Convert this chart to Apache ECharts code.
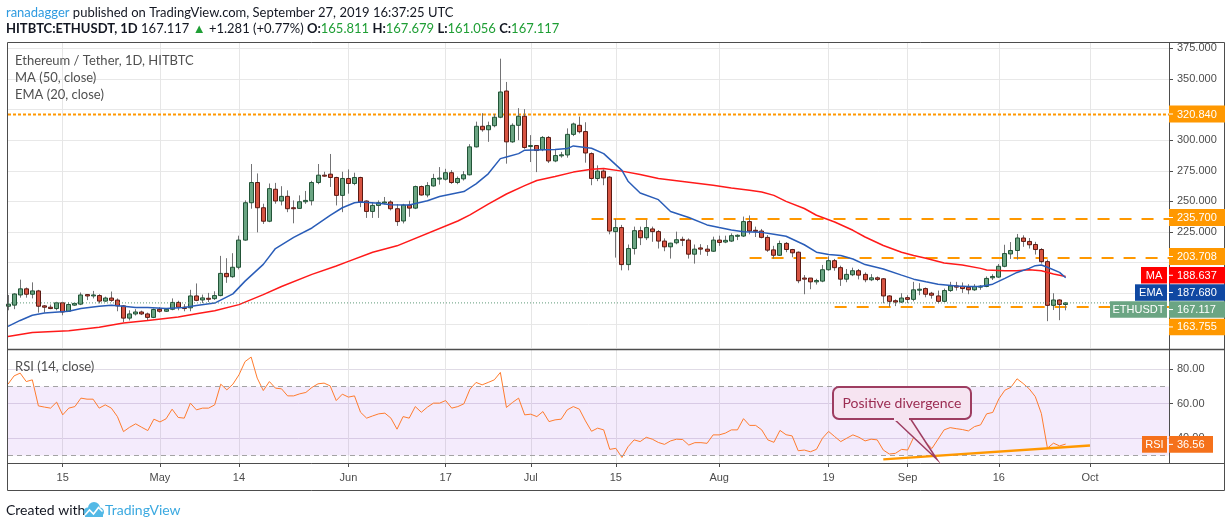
<!DOCTYPE html>
<html>
<head>
<meta charset="utf-8">
<script src="https://cdn.jsdelivr.net/npm/echarts@6/dist/echarts.min.js"></script>
<style>
html, body { margin: 0; padding: 0; background: #fff; }
#chart { width: 1232px; height: 528px; }
</style>
</head>
<body>
<div id="chart"></div>
<script>
// daily candles from 2019-04-06, axis runs on to 2019-10-14
var startDay = Date.UTC(2019, 3, 6);
var dayCount = 192;

var opens = [164.4,165.3,173.6,178.6,174.2,176.9,164.7,163.6,162.5,167.2,
  160.3,165.3,166.1,173.9,172.8,173.1,168.6,171.1,169.4,164.7,
  154.7,158.1,159.7,158.1,155.3,161.9,160.3,161.9,167.5,163.6,
  163.1,172.8,169.5,170.9,170.6,173.1,191.2,188.5,196.2,218.4,
  248.9,265.4,244.8,233.8,259.9,250.3,254.1,244.8,244.3,249.7,
  250.5,265.4,271.4,272.2,269.5,254.9,268.7,264.6,269.5,250.3,
  241.8,246.7,248.9,249.5,244.0,234.0,247.0,244.5,262.1,255.2,
  262.6,268.7,268.1,273.4,265.4,268.4,271.7,294.5,311.3,308.5,
  311.8,318.7,340.1,298.6,312.1,319.5,295.3,295.6,292.3,302.2,
  283.0,287.6,287.9,304.7,312.1,307.0,289.0,268.7,274.7,269.8,
  225.3,228.6,198.4,211.5,226.1,220.3,227.5,225.3,217.6,212.9,
  216.2,219.0,218.4,206.9,212.0,211.0,209.3,218.4,216.8,217.6,
  222.0,221.7,233.5,226.4,225.8,220.6,210.4,206.0,215.7,210.7,
  208.5,187.4,187.4,184.3,184.9,194.2,201.6,195.9,186.5,190.1,
  193.4,190.4,186.0,187.6,186.8,172.8,168.9,167.8,171.4,170.0,
  177.5,178.8,175.0,172.8,168.4,177.2,181.0,180.5,179.9,177.8,
  180.0,180.5,187.6,188.2,197.0,207.1,209.9,220.1,217.3,214.8,
  210.7,200.8,165.1,169.5,165.811];

var highs = [173.6,175.0,186.1,179.7,183.9,177.8,165.3,165.8,168.0,168.0,
  167.5,167.2,175.6,174.2,176.9,174.2,172.2,176.4,170.8,165.3,
  161.1,162.0,160.8,159.2,162.5,163.6,162.8,170.8,168.9,166.1,
  177.8,183.0,173.9,175.3,176.6,205.5,203.6,207.7,222.0,250.8,
  280.5,272.8,248.1,264.6,265.1,262.4,259.0,250.8,254.9,258.5,
  266.8,280.5,274.2,288.7,270.1,274.2,276.1,273.4,270.1,250.8,
  249.5,250.8,253.6,250.8,247.8,248.0,250.5,262.9,262.9,265.7,
  272.5,278.0,276.6,275.5,270.3,274.7,296.7,315.1,322.0,315.1,
  321.4,366.5,347.5,313.7,326.1,325.3,304.1,296.0,303.3,303.3,
  292.3,290.4,309.6,314.3,319.2,314.6,290.0,279.4,276.1,270.6,
  235.7,230.8,214.8,229.4,229.4,234.9,229.4,226.6,219.8,216.2,
  225.3,221.2,219.8,214.8,215.1,214.3,221.2,222.0,222.0,223.9,
  223.1,237.6,238.5,229.4,227.5,222.5,213.7,218.0,216.8,211.2,
  209.1,189.8,187.4,186.8,198.1,205.2,203.0,197.5,194.8,195.9,
  194.8,192.0,190.6,188.7,187.4,173.4,170.0,175.0,173.4,184.3,
  183.2,179.7,176.1,177.2,178.8,184.3,184.3,183.8,182.4,182.4,
  181.6,188.7,190.5,198.9,214.6,216.8,223.4,222.3,220.1,217.0,
  211.8,202.5,175.0,170.0,167.679];

var lows = [161.1,162.0,171.4,171.4,170.8,159.2,159.2,162.0,161.1,157.0,
  159.7,164.7,165.3,169.4,170.8,166.7,168.0,168.0,160.3,151.4,
  152.8,156.8,157.2,152.8,154.7,159.2,159.7,161.1,161.1,160.3,
  160.3,168.5,167.0,167.8,169.5,172.5,183.5,187.6,194.5,217.9,
  244.0,224.7,231.6,233.0,248.1,246.7,241.2,232.1,244.0,248.0,
  246.7,264.0,270.1,261.8,246.7,241.2,256.3,263.2,245.3,236.5,
  236.5,236.5,247.5,242.6,230.0,232.0,237.4,243.7,254.7,253.3,
  262.0,263.7,267.0,264.3,264.0,267.0,271.2,294.0,306.9,298.6,
  310.5,317.9,280.8,297.8,300.0,292.9,282.1,273.9,291.0,281.3,
  282.0,285.7,285.7,303.3,305.5,281.6,263.2,266.5,263.2,223.1,
  204.1,193.7,193.7,206.6,214.3,218.4,217.0,211.5,209.3,203.3,
  215.0,213.5,203.3,199.2,206.4,205.5,208.8,213.7,215.9,216.8,
  218.4,220.9,223.1,220.9,219.8,208.8,203.3,205.5,208.5,204.4,
  183.2,174.2,178.3,182.1,184.0,193.4,193.4,181.0,184.0,189.0,
  186.3,184.0,184.9,184.9,166.8,164.0,164.5,167.0,167.0,168.4,
  173.4,171.7,170.6,166.8,168.0,176.1,177.2,175.3,174.2,176.9,
  177.8,179.9,185.8,187.6,196.2,203.0,202.5,212.9,211.5,206.6,
  199.2,152.2,161.3,153.0,161.056];

var closes = [166.1,174.4,178.6,174.2,176.9,164.4,163.6,162.5,167.2,159.7,
  165.8,166.7,173.6,172.8,173.6,168.6,171.1,169.2,164.7,154.7,
  158.1,159.7,158.1,155.3,161.7,160.3,161.9,167.5,163.6,162.5,
  172.8,169.2,171.2,170.6,173.1,191.2,188.5,196.2,218.4,248.9,
  265.4,244.8,233.8,260.4,250.3,254.1,244.0,244.3,249.7,250.8,
  265.4,271.4,271.2,269.5,254.9,268.7,264.6,269.5,249.5,241.8,
  246.7,248.9,249.5,244.0,233.5,247.0,244.5,262.1,255.2,262.9,
  268.7,269.0,273.4,265.4,268.7,271.7,294.5,311.3,308.5,311.8,
  318.7,339.3,298.6,312.1,319.5,294.0,295.6,291.5,302.2,283.0,
  287.4,288.0,304.7,313.2,306.9,289.5,268.7,274.7,269.2,225.8,
  228.6,198.4,211.5,226.1,220.3,228.6,225.3,217.6,212.9,215.9,
  218.7,218.5,206.9,211.0,211.0,209.3,218.4,216.5,218.2,222.0,
  222.3,233.5,225.8,226.1,220.6,210.2,206.0,215.6,210.7,208.0,
  185.2,186.5,184.3,185.4,194.2,201.6,195.9,186.5,190.4,193.4,
  189.8,186.0,187.6,186.3,172.8,168.4,167.8,171.1,170.0,177.8,
  178.3,174.2,173.4,168.4,177.2,181.0,180.0,178.8,177.8,180.5,
  180.8,187.1,188.7,197.0,207.4,209.9,220.1,217.3,214.6,210.7,
  200.8,165.1,169.5,165.9,167.117];

// MA (50) and EMA (20): day index -> value
var maDays = [0,4,10,15,19,23,28,31,34,38,42,45,50,54,56,60,64,74,76,79,82,85,87,90,93,96,98,
  101,104,107,112,116,119,122,124,126,128,131,133,136,139,141,144,147,149,151,154,157,160,161,
  164,166,168,170,172,174];
var maValues = [139.7,143.0,144.4,147.2,150.8,152.8,155.6,158.3,160.7,165.7,173.9,180.5,190.4,197.3,201.0,208.5,213.7,234.0,239.0,247.8,256.0,262.9,267.0,270.3,273.9,276.2,276.9,
  274.7,272.0,268.7,265.7,263.2,261.0,259.1,257.7,254.9,250.0,244.2,238.7,233.2,226.4,220.9,214.0,208.5,205.8,203.6,199.7,198.1,195.3,194.0,
  193.4,193.4,194.2,193.4,190.7,188.637];

var emaDays = [0,2,4,6,10,12,15,17,19,21,23,26,29,31,34,37,39,42,44,47,50,53,55,57,58,61,63,66,69,71,75,77,79,81,82,84,85,90,92,93,95,96,98,
  101,102,104,107,109,112,115,117,119,121,124,126,128,131,133,135,137,139,141,144,147,149,151,153,156,158,160,162,164,166,168,169,170,171,173,174];
var emaValues = [148.0,152.8,157.0,158.9,160.3,162.5,164.4,165.3,164.4,163.3,163.3,162.5,163.3,165.0,167.0,174.5,184.9,198.6,211.5,220.6,228.3,238.5,244.8,248.9,249.5,248.5,247.3,247.0,250.5,254.0,258.0,264.3,272.5,284.9,286.3,289.0,291.8,292.3,293.1,295.3,294.0,293.4,289.0,
  275.3,266.5,256.9,251.4,241.8,236.8,230.8,228.6,226.6,225.3,224.7,223.1,221.5,214.6,208.5,206.6,205.8,203.0,198.4,194.8,189.8,186.5,184.3,182.4,181.0,180.5,180.5,182.4,187.1,192.0,195.3,197.5,198.1,196.2,192.0,187.68];

var rsiValues = [71.3,76.1,77.7,72.8,73.8,58.7,58.0,57.4,60.9,53.5,
  57.4,58.3,63.2,62.6,62.6,57.4,59.3,57.4,52.5,43.8,
  46.3,48.3,46.3,44.4,51.0,49.4,51.2,56.8,52.0,51.6,
  60.3,56.4,57.4,57.4,59.3,71.3,68.0,71.3,76.7,84.4,
  87.0,74.8,67.6,72.8,69.0,68.6,64.5,64.5,65.7,66.5,
  69.4,71.5,71.9,70.3,61.8,65.5,63.8,64.5,55.0,51.6,
  52.9,54.1,54.5,51.6,45.2,52.5,51.6,58.3,55.0,58.0,
  60.3,60.3,61.8,57.4,58.3,59.9,68.4,72.3,70.9,72.3,
  73.8,78.1,57.8,60.7,63.2,53.5,53.9,52.5,55.4,49.6,
  50.6,51.0,56.4,58.3,56.8,50.0,44.0,45.8,44.8,33.5,
  34.1,28.8,35.0,39.0,38.0,40.5,39.4,37.5,36.4,38.4,
  39.4,39.2,36.0,37.4,37.4,37.0,41.9,41.9,42.9,44.8,
  44.8,51.3,47.4,47.4,44.8,39.0,37.6,44.5,42.0,41.3,
  32.7,33.1,32.1,33.5,40.0,43.9,40.9,38.0,40.0,41.9,
  40.5,38.4,39.4,39.0,33.1,30.8,31.2,33.5,33.1,40.5,
  40.0,37.4,34.0,39.4,44.8,46.1,45.5,45.0,44.2,46.7,
  47.7,54.1,54.9,62.7,67.8,69.5,74.4,71.7,68.6,64.1,
  54.3,34.2,37.1,35.5,36.56];

// horizontal levels: [value, first day index]
var levelValues = [320.84, 235.7, 203.708, 163.755];
var levelStarts = [0, 95.7, 121.7, 135.7];
var lastPrice = 167.117;

// divergence trend line on RSI: [day index, rsi]
var divergenceLine = [[143.9, 27.7], [177.8, 35.7]];

var tickDates = ['2019-04-15','2019-05-01','2019-05-14','2019-06-01','2019-06-17','2019-07-01',
  '2019-07-15','2019-08-01','2019-08-19','2019-09-01','2019-09-16','2019-10-01'];
var tickLabels = ['15','May','14','Jun','17','Jul','15','Aug','19','Sep','16','Oct'];
var priceTicks = [150, 175, 200, 225, 250, 275, 300, 325, 350, 375];
var priceLabels = [225, 250, 275, 300, 350, 375];  // the rest sit under the price tags
var rsiTicks = [40, 60, 80];

var dates = [];
for (var i = 0; i < dayCount; i++) {
  dates.push(new Date(startDay + i * 86400000).toISOString().slice(0, 10));
}

var lastIdx = dayCount - 1;
var isTick = function (index, value) { return tickDates.indexOf(value) >= 0; };
var tickName = function (value) {
  var k = tickDates.indexOf(value);
  return k >= 0 ? tickLabels[k] : '';
};

var candleData = opens.map(function (o, i) { return [i, o, closes[i], lows[i], highs[i]]; });

function renderCandle(params, api) {
  var idx = api.value(0);
  var o = api.value(1), c = api.value(2), l = api.value(3), h = api.value(4);
  var pO = api.coord([idx, o]);
  var pC = api.coord([idx, c]);
  var pL = api.coord([idx, l]);
  var pH = api.coord([idx, h]);
  var cx = Math.floor(pO[0]) + 0.5;
  var up = c >= o;
  var top = Math.min(pO[1], pC[1]);
  var bot = Math.max(pO[1], pC[1]);
  if (bot - top < 1) { bot = top + 1; }
  return {
    type: 'group',
    children: [
      { type: 'line', shape: { x1: cx, y1: pH[1], x2: cx, y2: pL[1] },
        style: { stroke: '#737375', lineWidth: 1 } },
      { type: 'rect', shape: { x: cx - 2, y: top, width: 4, height: bot - top },
        style: { fill: up ? '#6ba583' : '#d75442', stroke: up ? '#225437' : '#5b1a13', lineWidth: 1 } }
    ]
  };
}

var FONT = 'Lato, "Liberation Sans", sans-serif';
var AXISFONT = '"Liberation Sans", Arial, sans-serif';

var levelSeries = levelValues.map(function (v, k) {
  return {
    type: 'line', xAxisIndex: 0, yAxisIndex: 0, z: 1, silent: true,
    symbol: 'none', animation: false,
    data: [[levelStarts[k], v], [lastIdx, v]],
    lineStyle: { color: '#ff9800', width: 2, type: k === 0 ? [3, 2] : [12, 10] }
  };
});

// price tags on the right scale
function tag(y, h, color, value, label, labelX, w) {
  var els = [
    { type: 'rect', z: 60, shape: { x: 1169, y: y, width: w || 56, height: h }, style: { fill: color } },
    { type: 'line', z: 61, shape: { x1: 1169, y1: y + h / 2, x2: 1173, y2: y + h / 2 }, style: { stroke: '#fff', lineWidth: 1 } },
    { type: 'text', z: 61, x: 1177, y: y + h / 2 + 0.5,
      style: { text: value, fill: '#fff', font: '11px ' + AXISFONT, textVerticalAlign: 'middle', verticalAlign: 'middle' } }
  ];
  if (label) {
    els.push({ type: 'rect', z: 60, shape: { x: labelX, y: y, width: 1167 - labelX, height: h }, style: { fill: color } });
    els.push({ type: 'text', z: 61, x: (labelX + 1167) / 2, y: y + h / 2 + 0.5,
      style: { text: label, fill: '#fff', font: '11px ' + AXISFONT, textAlign: 'center', align: 'center',
        textVerticalAlign: 'middle', verticalAlign: 'middle' } });
  }
  return els;
}

var graphics = [];
// frame
graphics.push({ type: 'rect', z: 40, shape: { x: 7.5, y: 42.5, width: 1217, height: 448 },
  style: { fill: null, stroke: '#4d4d4d', lineWidth: 1 } });
graphics.push({ type: 'line', z: 40, shape: { x1: 7.5, y1: 349.5, x2: 1224.5, y2: 349.5 }, style: { stroke: '#4d4d4d', lineWidth: 1.5 } });
graphics.push({ type: 'line', z: 40, shape: { x1: 7.5, y1: 463.5, x2: 1224.5, y2: 463.5 }, style: { stroke: '#4d4d4d', lineWidth: 1 } });
graphics.push({ type: 'line', z: 40, shape: { x1: 1169.5, y1: 42.5, x2: 1169.5, y2: 463.5 }, style: { stroke: '#4d4d4d', lineWidth: 1 } });

// header
graphics.push({ type: 'text', x: 6, y: 13, style: {
  text: '{u|ranadagger}{t| published on TradingView.com, September 27, 2019 16:37:25 UTC}',
  font: '13px ' + FONT, textVerticalAlign: 'middle', verticalAlign: 'middle',
  rich: { u: { fill: '#2f9be0', color: '#2f9be0', font: '13px ' + FONT }, t: { fill: '#131722', color: '#131722', font: '13px ' + FONT } }
} });
graphics.push({ type: 'text', x: 6, y: 29, style: {
  text: '{b|HITBTC:ETHUSDT, 1D} {t|167.117 }{g|\u25B2}{t| +1.281 (+0.77%) }{b|O:}{g|165.811} {b|H:}{g|167.679} {b|L:}{g|161.056} {b|C:}{g|167.117}',
  font: '13px ' + FONT, textVerticalAlign: 'middle', verticalAlign: 'middle',
  rich: {
    b: { fill: '#131722', color: '#131722', font: 'bold 13px ' + FONT },
    t: { fill: '#131722', color: '#131722', font: '13px ' + FONT },
    g: { fill: '#1f9e35', color: '#1f9e35', font: '13px ' + FONT }
  }
} });

// legends
[['Ethereum / Tether, 1D, HITBTC', 61], ['MA (50, close)', 78], ['EMA (20, close)', 95], ['RSI (14, close)', 367]].forEach(function (t) {
  graphics.push({ type: 'text', z: 50, x: 15, y: t[1], style: { text: t[0], fill: '#505050', font: '13px ' + FONT,
    textVerticalAlign: 'middle', verticalAlign: 'middle' } });
});

// tags
graphics = graphics.concat(tag(105.5, 17, '#ff9800', '320.840'));
graphics = graphics.concat(tag(209, 17, '#ff9800', '235.700'));
graphics = graphics.concat(tag(248, 17, '#ff9800', '203.708'));
graphics = graphics.concat(tag(267, 16.5, '#ff0000', '188.637', 'MA', 1141));
graphics = graphics.concat(tag(284.3, 16.5, '#0f48a2', '187.680', 'EMA', 1135));
graphics = graphics.concat(tag(301.3, 16.5, '#6ba583', '167.117', 'ETHUSDT', 1110));
graphics = graphics.concat(tag(318.7, 16.5, '#ff9800', '163.755'));
graphics = graphics.concat(tag(436, 16.7, '#f5711b', '36.56', 'RSI', 1142, 44));

// callout
graphics.push({ type: 'polygon', z: 55, shape: { points: [[893, 418], [937, 459.5], [910, 418]] },
  style: { fill: '#f6e4f1', stroke: '#9e3d61', lineWidth: 1.5 } });
graphics.push({ type: 'rect', z: 56, shape: { x: 833, y: 387, width: 138, height: 32, r: 6 },
  style: { fill: '#f6e4f1', stroke: '#9e3d61', lineWidth: 2 } });
graphics.push({ type: 'rect', z: 57, shape: { x: 894, y: 416, width: 15, height: 5 },
  style: { fill: '#f6e4f1' } });
graphics.push({ type: 'text', z: 58, x: 902, y: 403, style: { text: 'Positive divergence', fill: '#9b2c52',
  font: '14px ' + FONT, textAlign: 'center', align: 'center', textVerticalAlign: 'middle', verticalAlign: 'middle' } });

// footer
graphics.push({ type: 'text', x: 6, y: 510, style: { text: 'Created with', fill: '#131722', font: '14px ' + FONT,
  textVerticalAlign: 'middle', verticalAlign: 'middle' } });
graphics.push({ type: 'circle', shape: { cx: 88, cy: 512, r: 4.5 }, style: { fill: '#53b9e6' } });
graphics.push({ type: 'circle', shape: { cx: 94, cy: 508, r: 6 }, style: { fill: '#53b9e6' } });
graphics.push({ type: 'circle', shape: { cx: 99.5, cy: 512, r: 4.5 }, style: { fill: '#53b9e6' } });
graphics.push({ type: 'rect', shape: { x: 85, y: 511, width: 18, height: 6 }, style: { fill: '#53b9e6' } });
graphics.push({ type: 'polyline', shape: { points: [[85, 515], [89.5, 510], [93.5, 514], [98.5, 507.5], [102.5, 511.5]] },
  style: { stroke: '#fff', lineWidth: 1.6, fill: null } });
graphics.push({ type: 'text', x: 105, y: 510, style: { text: 'TradingView', fill: '#3ba9e0', font: '14px ' + FONT,
  textVerticalAlign: 'middle', verticalAlign: 'middle' } });

var option = {
  animation: false,
  backgroundColor: '#ffffff',
  grid: [
    { left: 8, right: 63, top: 43, height: 305 },
    { left: 8, right: 63, top: 350, height: 113 }
  ],
  xAxis: [
    { type: 'category', gridIndex: 0, data: dates, boundaryGap: false,
      axisLine: { show: false }, axisTick: { show: false }, axisLabel: { show: false },
      splitLine: { show: true, interval: isTick, lineStyle: { color: '#e6e6e6', width: 1 } } },
    { type: 'category', gridIndex: 1, data: dates, boundaryGap: false,
      axisLine: { show: false },
      axisTick: { show: true, interval: isTick, length: 4, lineStyle: { color: '#4d4d4d' } },
      axisLabel: { show: true, interval: isTick, formatter: tickName, color: '#4c4c4c', fontSize: 11,
        fontFamily: AXISFONT, margin: 9 },
      splitLine: { show: true, interval: isTick, lineStyle: { color: '#e6e6e6', width: 1 } } }
  ],
  yAxis: [
    { type: 'value', gridIndex: 0, position: 'right', min: 130.3, max: 379.3,
      axisLine: { show: false },
      axisTick: { show: true, length: 4, customValues: priceTicks, lineStyle: { color: '#4d4d4d' } },
      axisLabel: { customValues: priceLabels, formatter: function (v) { return v.toFixed(3); },
        color: '#4c4c4c', fontSize: 11, fontFamily: AXISFONT, margin: 8 },
      splitLine: { show: true, lineStyle: { color: '#e8e8e8', width: 1 } } },
    { type: 'value', gridIndex: 1, position: 'right', min: 25.6, max: 91.1,
      axisLine: { show: false },
      axisTick: { show: true, length: 4, customValues: rsiTicks, lineStyle: { color: '#4d4d4d' } },
      axisLabel: { customValues: rsiTicks, formatter: function (v) { return v.toFixed(2); },
        color: '#4c4c4c', fontSize: 11, fontFamily: AXISFONT, margin: 8 },
      splitLine: { show: true, lineStyle: { color: '#e0dbe6', width: 1 } } }
  ],
  series: levelSeries.concat([
    { type: 'custom', name: 'ETHUSDT', xAxisIndex: 0, yAxisIndex: 0, z: 3,
      renderItem: renderCandle, data: candleData, encode: { x: 0, y: [1, 2, 3, 4] } },
    { type: 'line', name: 'MA', xAxisIndex: 0, yAxisIndex: 0, z: 4, symbol: 'none',
      data: maDays.map(function (d, k) { return [d, maValues[k]]; }),
      lineStyle: { color: '#ff1a1a', width: 1.5 } },
    { type: 'line', name: 'EMA', xAxisIndex: 0, yAxisIndex: 0, z: 4, symbol: 'none',
      data: emaDays.map(function (d, k) { return [d, emaValues[k]]; }),
      lineStyle: { color: '#2a5db8', width: 1.5 } },
    { type: 'line', name: 'last', xAxisIndex: 0, yAxisIndex: 0, z: 5, symbol: 'none', silent: true,
      data: [[0, lastPrice], [lastIdx, lastPrice]],
      lineStyle: { color: '#5e9a78', width: 1, type: [1, 2] } },
    { type: 'line', name: 'band', xAxisIndex: 1, yAxisIndex: 1, z: 1, symbol: 'none', silent: true,
      data: [[0, 50], [lastIdx, 50]], lineStyle: { opacity: 0 },
      markArea: { silent: true, itemStyle: { color: 'rgba(150, 60, 230, 0.1)' },
        data: [[{ yAxis: 30 }, { yAxis: 70 }]] },
      markLine: { silent: true, symbol: 'none', label: { show: false },
        lineStyle: { color: '#a3a3a3', type: [5, 4], width: 1 },
        data: [{ yAxis: 70 }, { yAxis: 30 }] } },
    { type: 'line', name: 'RSI', xAxisIndex: 1, yAxisIndex: 1, z: 4, symbol: 'none',
      data: rsiValues.map(function (v, i) { return [i, v]; }),
      lineStyle: { color: '#ff7c2e', width: 1 } },
    { type: 'line', name: 'divergence', xAxisIndex: 1, yAxisIndex: 1, z: 5, symbol: 'none',
      data: divergenceLine, lineStyle: { color: '#ff9800', width: 2.5 } }
  ]),
  graphic: { elements: graphics }
};

var chart = echarts.init(document.getElementById('chart'));
chart.setOption(option);
</script>
</body>
</html>
